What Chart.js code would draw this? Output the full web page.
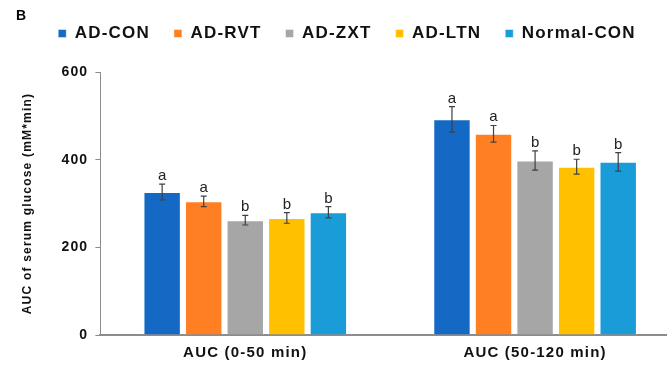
<!DOCTYPE html>
<html>
<head>
<meta charset="utf-8">
<script src="https://cdn.jsdelivr.net/npm/chart.js@4.4.1/dist/chart.umd.min.js"></script>
<style>
  html, body { margin: 0; padding: 0; background: #fff; overflow: hidden; }
  #wrap { width: 680px; height: 365px; }
</style>
</head>
<body>
<div id="wrap"><canvas id="c" width="680" height="365"></canvas></div>
<script>
const categories = ['AUC (0-50 min)', 'AUC (50-120 min)'];
const seriesNames = ['AD-CON', 'AD-RVT', 'AD-ZXT', 'AD-LTN', 'Normal-CON'];
const seriesColors = ['#1469C5', '#FF7F22', '#A6A6A6', '#FFC000', '#1A9CD8'];
const adCon = [326, 492];
const adRvt = [305, 459];
const adZxt = [262, 398];
const adLtn = [267, 384];
const normalCon = [280, 395];
const adConErr = [18, 29];
const adRvtErr = [12, 19];
const adZxtErr = [11, 22];
const adLtnErr = [12, 17];
const normalConErr = [13, 21];
const adConSig = ['a', 'a'];
const adRvtSig = ['a', 'a'];
const adZxtSig = ['b', 'b'];
const adLtnSig = ['b', 'b'];
const normalConSig = ['b', 'b'];
const yTicks = [0, 200, 400, 600];

const values = [adCon, adRvt, adZxt, adLtn, normalCon];
const errs = [adConErr, adRvtErr, adZxtErr, adLtnErr, normalConErr];
const sigs = [adConSig, adRvtSig, adZxtSig, adLtnSig, normalConSig];

const FONT = "'Liberation Sans', Arial, sans-serif";
const LS = '1.2px';
const LEGEND_EXTRA = 20;

const spacingPlugin = {
  id: 'spacing',
  afterInit(chart) {
    if (chart.legend && !chart.legend._wrapped) {
      const f = chart.legend.fit;
      chart.legend.fit = function () { f.call(this); this.height += LEGEND_EXTRA; };
      chart.legend._wrapped = true;
    }
  },
  beforeUpdate(chart) { chart.ctx.letterSpacing = LS; },
  beforeLayout(chart) { chart.ctx.letterSpacing = LS; },
  beforeDraw(chart) { chart.ctx.letterSpacing = LS; },
  resize(chart) { chart.ctx.letterSpacing = LS; }
};

const errPlugin = {
  id: 'errbars',
  afterDatasetsDraw(chart) {
    const ctx = chart.ctx;
    const y = chart.scales.y;
    ctx.save();
    ctx.letterSpacing = '0px';
    chart.data.datasets.forEach((ds, di) => {
      const meta = chart.getDatasetMeta(di);
      meta.data.forEach((bar, i) => {
        const v = ds.data[i];
        const e = errs[di][i];
        const x = bar.x;
        const yt = y.getPixelForValue(v + e);
        const yb = y.getPixelForValue(v - e);
        ctx.strokeStyle = '#404040';
        ctx.lineWidth = 1.2;
        ctx.beginPath();
        ctx.moveTo(x, yt); ctx.lineTo(x, yb);
        ctx.moveTo(x - 3, yt); ctx.lineTo(x + 3, yt);
        ctx.moveTo(x - 3, yb); ctx.lineTo(x + 3, yb);
        ctx.stroke();
        ctx.fillStyle = '#222';
        ctx.font = "15px " + FONT;
        ctx.textAlign = 'center';
        ctx.textBaseline = 'alphabetic';
        ctx.fillText(sigs[di][i], x, yt - 4);
      });
    });
    ctx.restore();
  },
  afterDraw(chart) {
    const ctx = chart.ctx;
    ctx.save();
    ctx.letterSpacing = '0.5px';
    ctx.fillStyle = '#000';
    ctx.font = "bold 14px " + FONT;
    ctx.textAlign = 'left';
    ctx.textBaseline = 'alphabetic';
    ctx.fillText('B', 16, 19.5);
    ctx.restore();
  }
};

new Chart(document.getElementById('c'), {
  type: 'bar',
  data: {
    labels: categories,
    datasets: seriesNames.map((name, i) => ({
      label: name,
      data: values[i],
      backgroundColor: seriesColors[i],
      borderColor: 'rgba(255,255,255,0.45)',
      borderWidth: 1,
      barPercentage: 0.9,
      categoryPercentage: 0.717
    }))
  },
  options: {
    responsive: false,
    animation: false,
    devicePixelRatio: 1,
    layout: { padding: { top: 1, left: 14, right: 0, bottom: -6 } },
    plugins: {
      tooltip: { enabled: false },
      legend: {
        position: 'top',
        labels: {
          boxWidth: 8,
          boxHeight: 8,
          padding: 24,
          color: '#111',
          font: { family: FONT, size: 17, weight: 'bold' }
        }
      }
    },
    scales: {
      x: {
        grid: { display: false, drawTicks: false },
        border: { display: true, color: '#8c8c8c', width: 2 },
        ticks: { color: '#111', padding: 9, font: { family: FONT, size: 15, weight: 'bold' } }
      },
      y: {
        min: 0, max: 600,
        afterBuildTicks(scale) { scale.ticks = yTicks.map(v => ({ value: v })); },
        grid: { drawOnChartArea: false, tickLength: 5, tickColor: '#8c8c8c' },
        border: { display: true, color: '#8c8c8c', width: 1 },
        ticks: { color: '#111', padding: 7, font: { family: FONT, size: 14, weight: 'bold' } },
        title: {
          display: true,
          text: 'AUC of serum glucose (mM*min)',
          color: '#111',
          padding: { top: 6, bottom: 20 },
          font: { family: FONT, size: 12, weight: 'bold' }
        }
      }
    }
  },
  plugins: [spacingPlugin, errPlugin]
});
</script>
</body>
</html>
